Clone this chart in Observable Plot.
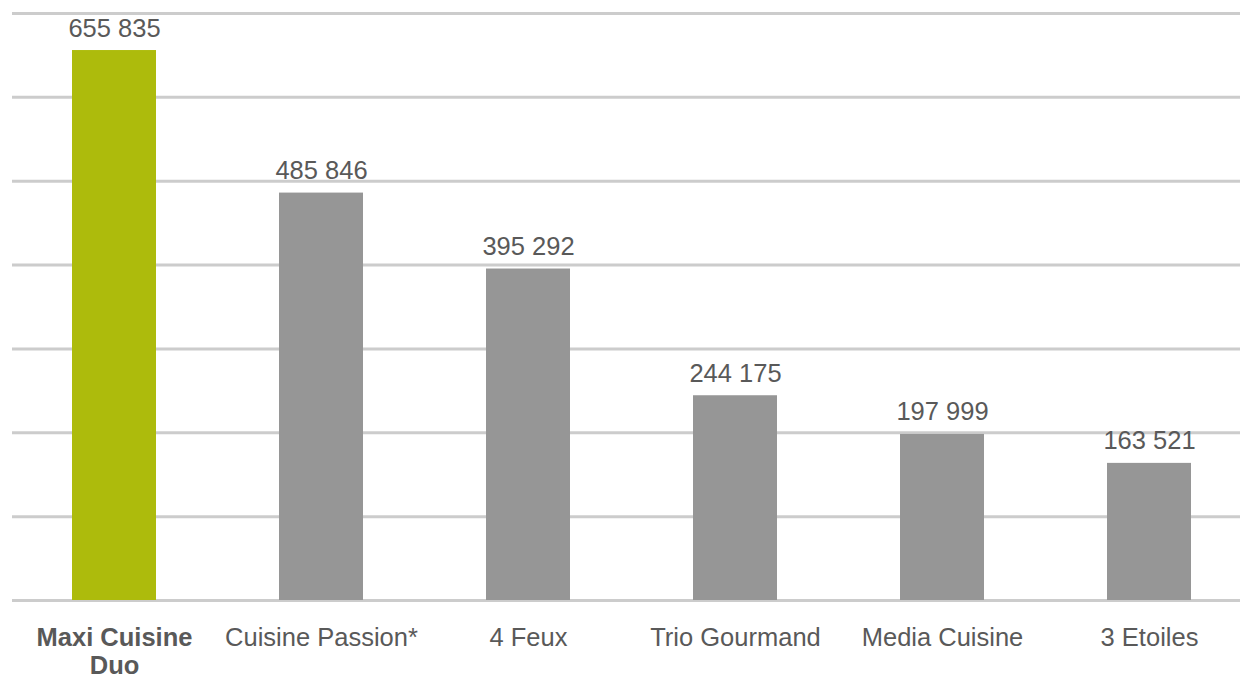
<!DOCTYPE html>
<html>
<head>
<meta charset="utf-8">
<script src="https://cdn.jsdelivr.net/npm/d3@7"></script>
<script src="https://cdn.jsdelivr.net/npm/@observablehq/plot@0.6"></script>
<style>
  html, body { margin: 0; padding: 0; background: #ffffff; }
  #chart { width: 1240px; height: 678px; overflow: hidden; }
</style>
</head>
<body>
<div id="chart"></div>
<script>
const categories = ["Maxi Cuisine Duo", "Cuisine Passion*", "4 Feux", "Trio Gourmand", "Media Cuisine", "3 Etoiles"];
const values = [655835, 485846, 395292, 244175, 197999, 163521];
const highlighted = "Maxi Cuisine Duo";
const gridTicks = [0, 100000, 200000, 300000, 400000, 500000, 600000, 700000];

const data = categories.map((c, i) => ({category: c, value: values[i]}));
const fmt = v => d3.format(",")(v).replace(/,/g, " ");

const GREEN = "#adbb0c";
const GRAY = "#969696";
const TEXT = "#595959";
const FS = 25.5;

const chart = Plot.plot({
  width: 1240,
  height: 678,
  marginTop: 13,
  marginBottom: 78,
  marginLeft: 12,
  marginRight: 0,
  style: {fontFamily: "'Liberation Sans', Arial, Helvetica, sans-serif", background: "#ffffff"},
  x: {domain: categories, range: [9.3, 1253.7], paddingInner: 0.595, paddingOuter: 0.2975, axis: null},
  y: {domain: [0, 700000], axis: null},
  marks: [
    Plot.gridY(gridTicks, {stroke: "#cccccc", strokeOpacity: 1, strokeWidth: 3}),
    Plot.barY(data, {x: "category", y: "value", fill: d => d.category === highlighted ? GREEN : GRAY}),
    Plot.text(data, {x: "category", y: "value", text: d => fmt(d.value), lineAnchor: "bottom", dy: -14, fontSize: FS, fill: TEXT}),
    Plot.axisX([highlighted], {tickSize: 0, tickPadding: 25, fontSize: FS, fontWeight: "bold", fill: TEXT, lineWidth: 7, lineHeight: 1.12, label: null}),
    Plot.axisX(categories.filter(c => c !== highlighted), {tickSize: 0, tickPadding: 27, fontSize: FS, fill: TEXT, label: null})
  ]
});
document.getElementById("chart").appendChild(chart);
</script>
</body>
</html>
